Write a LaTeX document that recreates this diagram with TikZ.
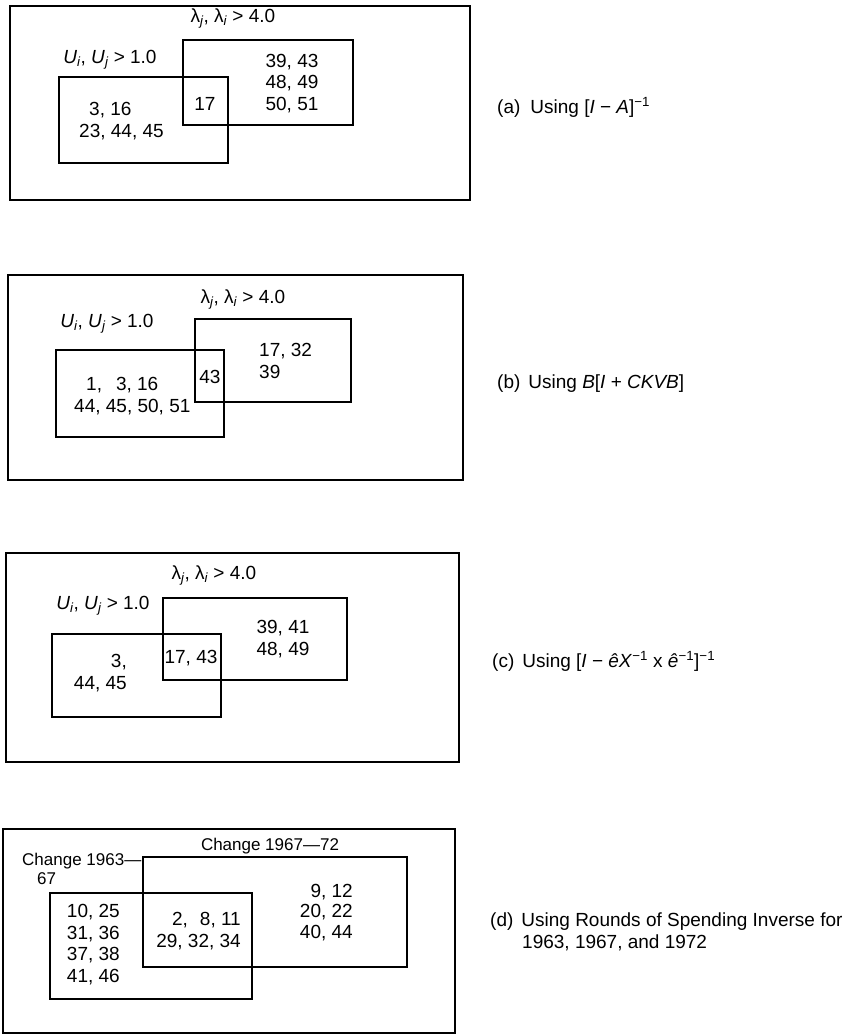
\documentclass[tikz,border=0pt]{standalone}
\usepackage{fontspec}
\setmainfont{Liberation Sans}
\newcommand{\ssub}[1]{\textsubscript{\itshape #1}}
\newcommand{\ssup}[1]{\textsuperscript{#1}}

\begin{document}
\begin{tikzpicture}[
  x=1pt,y=-1pt,
  frame/.style={draw,line width=1.8pt},
  setbox/.style={draw,line width=1.3pt},
  lbl/.style={inner sep=0pt,font=\fontsize{19}{21.5}\selectfont},
  chg/.style={lbl,font=\fontsize{17}{19}\selectfont},
  captext/.style={lbl,anchor=base west,align=left}
]
  \useasboundingbox (0,0) rectangle (846,1036);

  % (a)
  \draw[frame] (10,6) rectangle (470,200);
  \draw[setbox] (183,40) rectangle (353,125);
  \draw[setbox] (59,77) rectangle (228,163);
  \node[lbl,anchor=base] (lamA) at (233,22) {λ\ssub{j}, λ\ssub{i} > 4.0};
  \node[lbl,anchor=base] (uA) at (110,63) {\textit{U}\ssub{i}, \textit{U}\ssub{j} > 1.0};
  \node[lbl,anchor=base,align=center] (onlyLamA) at (292,110) {39, 43\\48, 49\\50, 51};
  \node[lbl,anchor=base] (bothA) at (205,110) {17};
  \node[lbl,anchor=base west,align=left] (onlyUA) at (79,137) {\hspace*{10pt}3, 16\\23, 44, 45};
  \node[captext] (capA) at (497,113) {(a)\hspace{10pt}Using [\textit{I} − \textit{A}]\ssup{−1}};

  % (b)
  \draw[frame] (8,275) rectangle (463,480);
  \draw[setbox] (195,319) rectangle (351,402);
  \draw[setbox] (56,350) rectangle (224,437);
  \node[lbl,anchor=base] (lamB) at (243,303) {λ\ssub{j}, λ\ssub{i} > 4.0};
  \node[lbl,anchor=base] (uB) at (107,327) {\textit{U}\ssub{i}, \textit{U}\ssub{j} > 1.0};
  \node[lbl,anchor=base west,align=left] (onlyLamB) at (259,378) {17, 32\\39};
  \node[lbl,anchor=base] (bothB) at (210,383) {43};
  \node[lbl,anchor=base west,align=left] (onlyUB) at (74,412) {\hspace*{12pt}1,\hspace{14pt}3, 16\\44, 45, 50, 51};
  \node[captext] (capB) at (497,388) {(b)\hspace{8pt}Using \textit{B}[\textit{I} + \textit{CKVB}]};

  % (c)
  \draw[frame] (6,553) rectangle (459,762);
  \draw[setbox] (163,598) rectangle (347,680);
  \draw[setbox] (52,634) rectangle (221,717);
  \node[lbl,anchor=base] (lamC) at (214,579) {λ\ssub{j}, λ\ssub{i} > 4.0};
  \node[lbl,anchor=base] (uC) at (103,609) {\textit{U}\ssub{i}, \textit{U}\ssub{j} > 1.0};
  \node[lbl,anchor=base,align=center] (onlyLamC) at (283,655) {39, 41\\48, 49};
  \node[lbl,anchor=base] (bothC) at (191,663) {17, 43};
  \node[lbl,anchor=base east,align=right] (onlyUC) at (127,689) {3,\\44, 45};
  \node[captext] (capC) at (492,667) {(c)\hspace{8pt}Using [\textit{I} − \textit{ê}\textit{X}\ssup{−1} x \textit{ê}\ssup{−1}]\ssup{−1}};

  % (d)
  \draw[frame] (3,829) rectangle (455,1033);
  \draw[setbox] (143,857) rectangle (407,967);
  \draw[setbox] (50,893) rectangle (252,999);
  \node[chg,anchor=base] (chgB) at (270,850) {Change 1967—72};
  \node[chg,anchor=base west,align=left] (chgA) at (22,884) {Change 1963—\\\hspace*{15pt}67};
  \node[lbl,anchor=base east,align=right] (onlyA) at (120,982) {10, 25\\31, 36\\37, 38\\41, 46};
  \node[lbl,anchor=base east,align=right] (bothD) at (241,947) {2,\hspace{12pt}8, 11\\29, 32, 34};
  \node[lbl,anchor=base east,align=right,font=\fontsize{19}{20.5}\selectfont] (onlyB) at (353,938) {9, 12\\20, 22\\40, 44};
  \node[captext] (capD) at (490,948) {(d)\hspace{8pt}Using Rounds of Spending Inverse for\\\hspace*{32pt}1963, 1967, and 1972};
\end{tikzpicture}
\end{document}
